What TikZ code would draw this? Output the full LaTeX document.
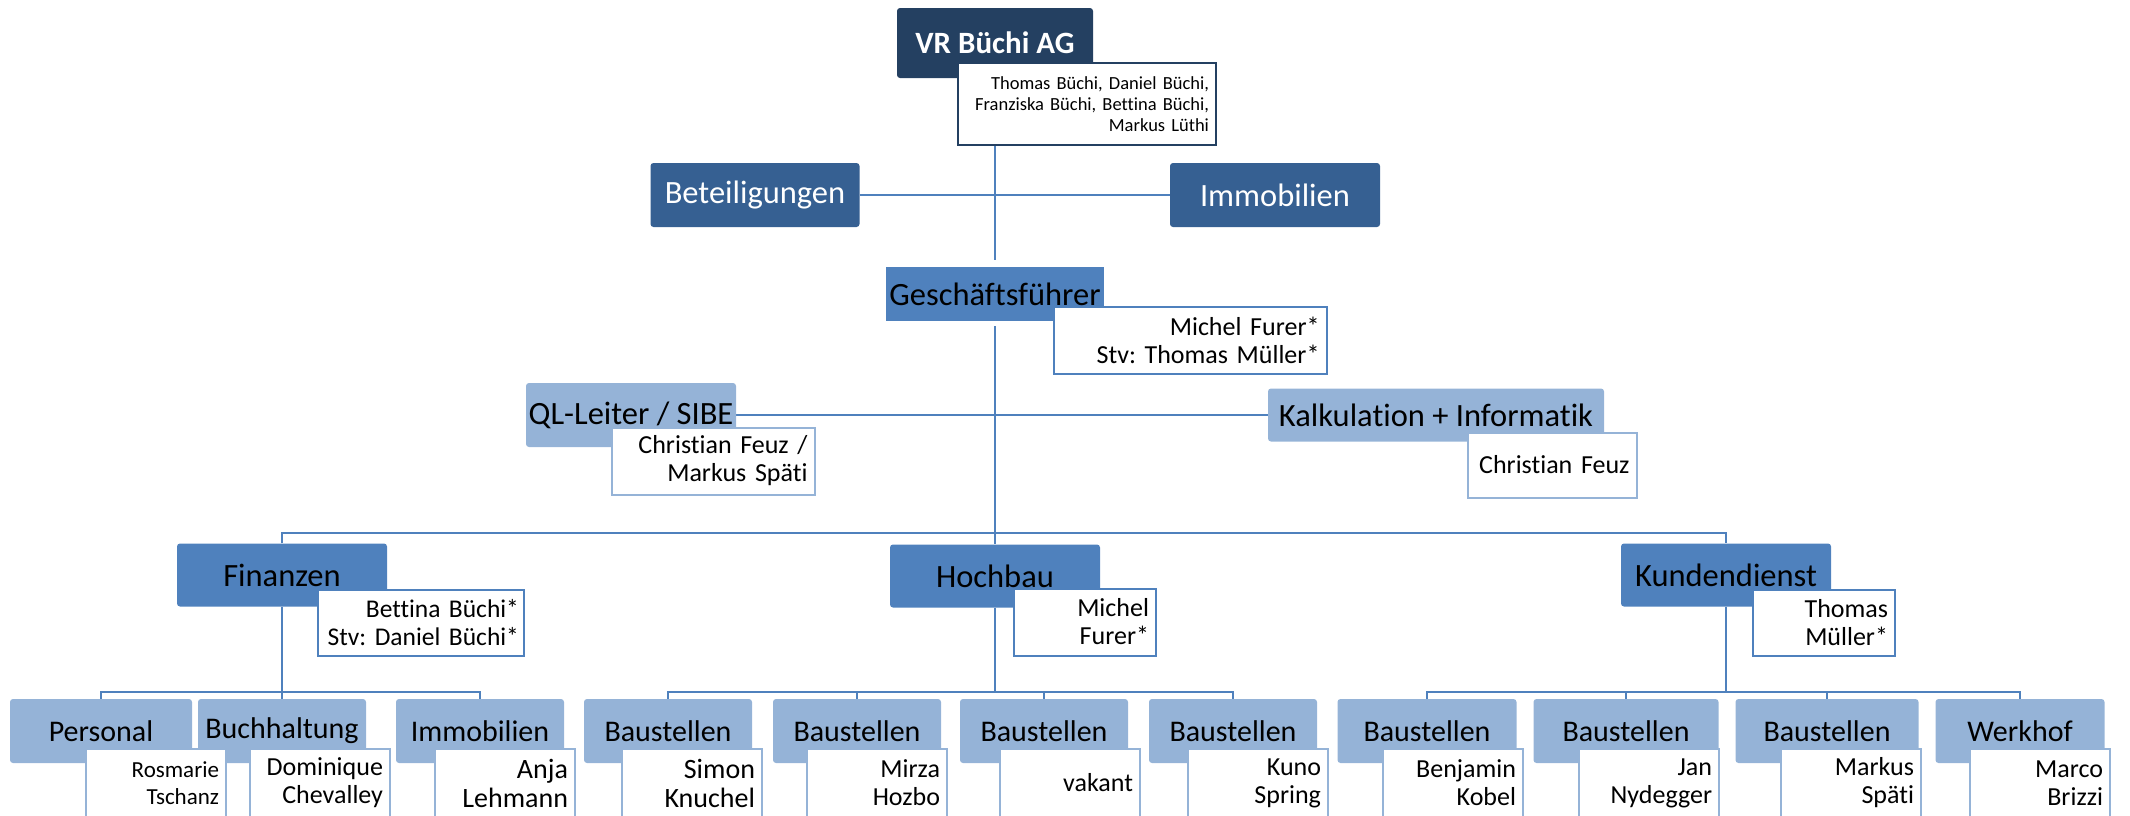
\documentclass[tikz,border=0pt]{standalone}
\usepackage{fontspec}
\setmainfont{Carlito}[Ligatures=NoCommon]
\frenchspacing
\usetikzlibrary{backgrounds}

\definecolor{vrblau}{RGB}{36,64,97}
\definecolor{dunkelblau}{RGB}{54,96,146}
\definecolor{mittelblau}{RGB}{79,129,189}
\definecolor{hellblau}{RGB}{149,179,215}

\begin{document}
\begin{tikzpicture}[x=1pt,y=-1pt,
  head node/.style={fill=#1,rounded corners=3pt,inner sep=0pt,font=\fontsize{32.5}{38}\selectfont},
  leaf node/.style={head node=hellblau,minimum height=64pt,font=\fontsize{30}{34}\selectfont},
  sub node/.style={draw=#1,fill=white,line width=2pt,inner xsep=7pt,inner ysep=0pt,align=right,font=\fontsize{26}{28}\selectfont},
  leaf sub/.style={sub node=hellblau,text width=126pt,minimum height=68pt},
  conn/.style={draw=mittelblau,line width=2.4pt}]

  \path[use as bounding box,clip] (0,0) rectangle (2130,815);

  \node[head node=vrblau,text=white,font=\fontsize{31}{36}\selectfont\bfseries,minimum width=196pt,minimum height=70pt] (vr) at (995,43) {VR Büchi AG};
  \node[head node=dunkelblau,text=white,minimum width=209pt,minimum height=64pt] (bet) at (755,195) {Beteiligungen};
  \node[head node=dunkelblau,text=white,minimum width=210pt,minimum height=64pt] (immo) at (1275,195) {Immobilien};
  \node[head node=mittelblau,rounded corners=0pt,minimum width=218pt,minimum height=54pt] (gf) at (995,294) {Geschäftsführer};
  \node[head node=hellblau,minimum width=210pt,minimum height=64pt] (ql) at (631,415) {QL-Leiter / SIBE};
  \node[head node=hellblau,minimum width=336pt,minimum height=53pt] (kalk) at (1436,415) {Kalkulation + Informatik};
  \node[head node=mittelblau,minimum width=210pt,minimum height=63pt] (fin) at (282,575) {Finanzen};
  \node[head node=mittelblau,minimum width=210pt,minimum height=63pt] (hoch) at (995,576) {Hochbau};
  \node[head node=mittelblau,minimum width=210pt,minimum height=63pt] (kd) at (1726,575) {Kundendienst};
  \node[leaf node,minimum width=182pt] (pers) at (101,731) {Personal};
  \node[leaf node,minimum width=168pt] (buch) at (282,731) {Buchhaltung};
  \node[leaf node,minimum width=168pt] (immo2) at (480,731) {Immobilien};
  \node[leaf node,minimum width=168pt] (b1) at (668,731) {Baustellen};
  \node[leaf node,minimum width=168pt] (b2) at (857,731) {Baustellen};
  \node[leaf node,minimum width=168pt] (b3) at (1044,731) {Baustellen};
  \node[leaf node,minimum width=168pt] (b4) at (1233,731) {Baustellen};
  \node[leaf node,minimum width=179pt] (b5) at (1427,731) {Baustellen};
  \node[leaf node,minimum width=185pt] (b6) at (1626,731) {Baustellen};
  \node[leaf node,minimum width=183pt] (b7) at (1827,731) {Baustellen};
  \node[leaf node,minimum width=169pt] (werk) at (2020,731) {Werkhof};

  \node[sub node=vrblau,font=\fontsize{18.5}{21}\selectfont,text width=244pt,minimum height=82pt] (vrsub) at (1087,104) {Thomas Büchi, Daniel Büchi,\\Franziska Büchi, Bettina Büchi,\\Markus Lüthi};
  \node[sub node=mittelblau,text width=259pt,minimum height=67pt] (gfsub) at (1190,340) {Michel Furer*\\Stv: Thomas Müller*};
  \node[sub node=hellblau,text width=189pt,minimum height=67pt] (qlsub) at (713,461) {Christian Feuz /\\Markus Späti};
  \node[sub node=hellblau,text width=155pt,minimum height=65pt] (kalksub) at (1552,465) {Christian Feuz};
  \node[sub node=mittelblau,inner xsep=5pt,text width=196pt,minimum height=66pt,font=\fontsize{25.5}{28}\selectfont] (finsub) at (421,623) {Bettina Büchi*\\Stv: Daniel Büchi*};
  \node[sub node=mittelblau,text width=128pt,minimum height=67pt] (hochsub) at (1085,622) {Michel\\Furer*};
  \node[sub node=mittelblau,text width=128pt,minimum height=66pt] (kdsub) at (1824,623) {Thomas\\Müller*};
  \node[leaf sub,font=\fontsize{23}{27}\selectfont] (perssub) at (156,783) {Rosmarie\\Tschanz};
  \node[leaf sub] (buchsub) at (320,783) {Dominique\\Chevalley};
  \node[leaf sub,font=\fontsize{28}{29}\selectfont] (immo2sub) at (505,783) {Anja\\Lehmann};
  \node[leaf sub,font=\fontsize{28}{29}\selectfont] (b1sub) at (692,783) {Simon\\Knuchel};
  \node[leaf sub] (b2sub) at (877,783) {Mirza\\Hozbo};
  \node[leaf sub] (b3sub) at (1070,783) {vakant};
  \node[leaf sub] (b4sub) at (1258,783) {Kuno\\Spring};
  \node[leaf sub] (b5sub) at (1453,783) {Benjamin\\Kobel};
  \node[leaf sub] (b6sub) at (1649,783) {Jan\\Nydegger};
  \node[leaf sub] (b7sub) at (1851,783) {Markus\\Späti};
  \node[leaf sub] (werksub) at (2040,783) {Marco\\Brizzi};

 \begin{pgfonlayer}{background}
 \coordinate (bar) at (995,533);
 \coordinate (finbar) at (282,692);
 \coordinate (hochbar) at (995,692);
 \coordinate (kdbar) at (1726,692);
 \path
 (vr) [conn] edge [shorten >=7pt] (gf)
 (bet) edge (immo)
 (gf) edge [shorten <=5pt] (hoch)
 (ql) edge (kalk)
 (fin) edge (finbar)
 (hoch) edge (hochbar)
 (kd) edge (kdbar)
 (finbar) edge (buch);
 \draw[conn] (fin) |- (bar) -| (kd);
 \draw[conn] (pers) |- (finbar) -| (immo2);
 \draw[conn] (b1) |- (hochbar) -| (b4);
 \draw[conn] (b2) |- (hochbar) -| (b3);
 \draw[conn] (b5) |- (kdbar) -| (werk);
 \draw[conn] (b6) |- (kdbar) -| (b7);
 \end{pgfonlayer}

\end{tikzpicture}
\end{document}
